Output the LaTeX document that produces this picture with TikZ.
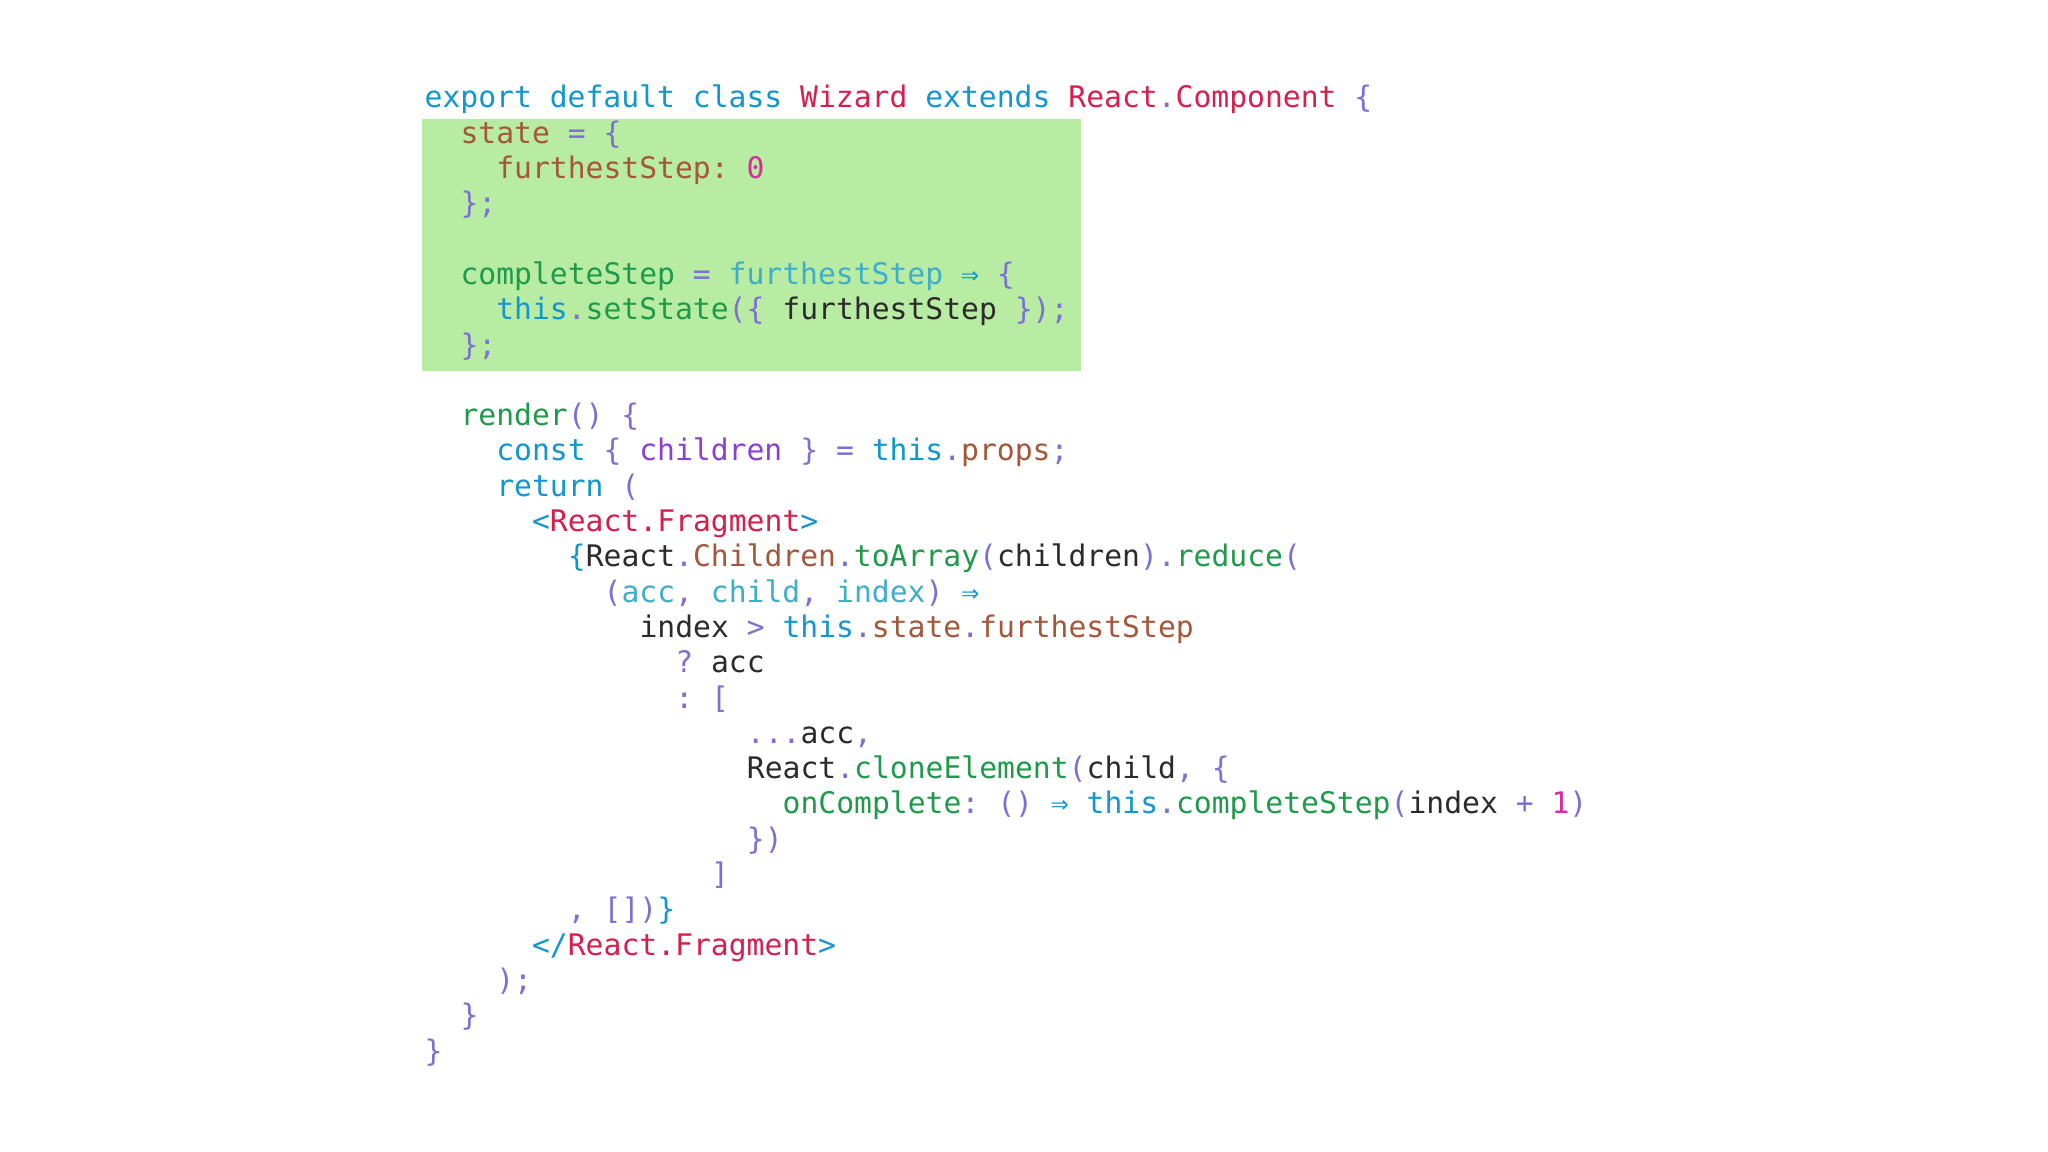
\documentclass[tikz,border=0pt]{standalone}
\usepackage{fontspec}
\setmonofont{DejaVu Sans Mono}
\usepackage{xcolor}

\definecolor{kwblue}{HTML}{1296D2}
\definecolor{clsred}{HTML}{D61F4F}
\definecolor{punct}{HTML}{7B70D4}
\definecolor{propbrown}{HTML}{A4573A}
\definecolor{fngreen}{HTML}{1F9A4B}
\definecolor{numpink}{HTML}{D62CA0}
\definecolor{parteal}{HTML}{3FAEC8}
\definecolor{chpurple}{HTML}{8B3FD6}
\definecolor{vardark}{HTML}{2B2B2B}
\definecolor{hlgreen}{HTML}{B8ECA2}

\newcommand\kw[1]{\textcolor{kwblue}{#1}}
\newcommand\cls[1]{\textcolor{clsred}{#1}}
\newcommand\pn[1]{\textcolor{punct}{#1}}
\newcommand\pr[1]{\textcolor{propbrown}{#1}}
\newcommand\fn[1]{\textcolor{fngreen}{#1}}
\newcommand\nm[1]{\textcolor{numpink}{#1}}
\newcommand\pa[1]{\textcolor{parteal}{#1}}
\newcommand\ch[1]{\textcolor{chpurple}{#1}}
\newcommand\vr[1]{\textcolor{vardark}{#1}}

\def\cw{0.179}
\def\lh{0.353}
\def\tx{4.24}
\def\ty{10.44}

\begin{document}
\begin{tikzpicture}[
  codeline/.style={anchor=base west, inner sep=0pt,
    font=\ttfamily\fontsize{8.45pt}{10pt}\selectfont}]

  \fill[white] (0,0) rectangle (20.48,11.52);
  \useasboundingbox (0,0) rectangle (20.48,11.52);

  % highlighted block
  \fill[hlgreen] (4.22,7.81) rectangle (10.81,10.33);

  \node[codeline] (l1)  at ({\tx+0*\cw},{\ty-0*\lh})  {\kw{export default class} \cls{Wizard} \kw{extends} \cls{React}\pn{.}\cls{Component} \pn{\{}};
  \node[codeline] (l2)  at ({\tx+2*\cw},{\ty-1*\lh})  {\pr{state} \pn{= \{}};
  \node[codeline] (l3)  at ({\tx+4*\cw},{\ty-2*\lh})  {\pr{furthestStep:} \nm{0}};
  \node[codeline] (l4)  at ({\tx+2*\cw},{\ty-3*\lh})  {\pn{\};}};
  \node[codeline] (l6)  at ({\tx+2*\cw},{\ty-5*\lh})  {\fn{completeStep} \pn{=} \pa{furthestStep} \kw{⇒} \pn{\{}};
  \node[codeline] (l7)  at ({\tx+4*\cw},{\ty-6*\lh})  {\kw{this}\pn{.}\fn{setState}\pn{(\{} \vr{furthestStep} \pn{\});}};
  \node[codeline] (l8)  at ({\tx+2*\cw},{\ty-7*\lh})  {\pn{\};}};

  \node[codeline] (l10) at ({\tx+2*\cw},{\ty-9*\lh})  {\fn{render}\pn{() \{}};
  \node[codeline] (l11) at ({\tx+4*\cw},{\ty-10*\lh}) {\kw{const} \pn{\{} \ch{children} \pn{\} =} \kw{this}\pn{.}\pr{props}\pn{;}};
  \node[codeline] (l12) at ({\tx+4*\cw},{\ty-11*\lh}) {\kw{return} \pn{(}};
  \node[codeline] (l13) at ({\tx+6*\cw},{\ty-12*\lh}) {\kw{<}\cls{React.Fragment}\kw{>}};
  \node[codeline] (l14) at ({\tx+8*\cw},{\ty-13*\lh}) {\kw{\{}\vr{React}\pn{.}\pr{Children}\pn{.}\fn{toArray}\pn{(}\vr{children}\pn{).}\fn{reduce}\pn{(}};
  \node[codeline] (l15) at ({\tx+10*\cw},{\ty-14*\lh}) {\pn{(}\pa{acc}\pn{,} \pa{child}\pn{,} \pa{index}\pn{)} \kw{⇒}};
  \node[codeline] (l16) at ({\tx+12*\cw},{\ty-15*\lh}) {\vr{index} \pn{>} \kw{this}\pn{.}\pr{state}\pn{.}\pr{furthestStep}};
  \node[codeline] (l17) at ({\tx+14*\cw},{\ty-16*\lh}) {\pn{?} \vr{acc}};
  \node[codeline] (l18) at ({\tx+14*\cw},{\ty-17*\lh}) {\pn{: [}};
  \node[codeline] (l19) at ({\tx+18*\cw},{\ty-18*\lh}) {\pn{...}\vr{acc}\pn{,}};
  \node[codeline] (l20) at ({\tx+18*\cw},{\ty-19*\lh}) {\vr{React}\pn{.}\fn{cloneElement}\pn{(}\vr{child}\pn{, \{}};
  \node[codeline] (l21) at ({\tx+20*\cw},{\ty-20*\lh}) {\fn{onComplete}\pn{:} \pn{()} \kw{⇒} \kw{this}\pn{.}\fn{completeStep}\pn{(}\vr{index} \pn{+} \nm{1}\pn{)}};
  \node[codeline] (l22) at ({\tx+18*\cw},{\ty-21*\lh}) {\pn{\})}};
  \node[codeline] (l23) at ({\tx+16*\cw},{\ty-22*\lh}) {\pn{]}};
  \node[codeline] (l24) at ({\tx+8*\cw},{\ty-23*\lh})  {\pn{, [])}\kw{\}}};
  \node[codeline] (l25) at ({\tx+6*\cw},{\ty-24*\lh})  {\kw{</}\cls{React.Fragment}\kw{>}};
  \node[codeline] (l26) at ({\tx+4*\cw},{\ty-25*\lh})  {\pn{);}};
  \node[codeline] (l27) at ({\tx+2*\cw},{\ty-26*\lh})  {\pn{\}}};
  \node[codeline] (l28) at ({\tx+0*\cw},{\ty-27*\lh})  {\pn{\}}};
\end{tikzpicture}
\end{document}
